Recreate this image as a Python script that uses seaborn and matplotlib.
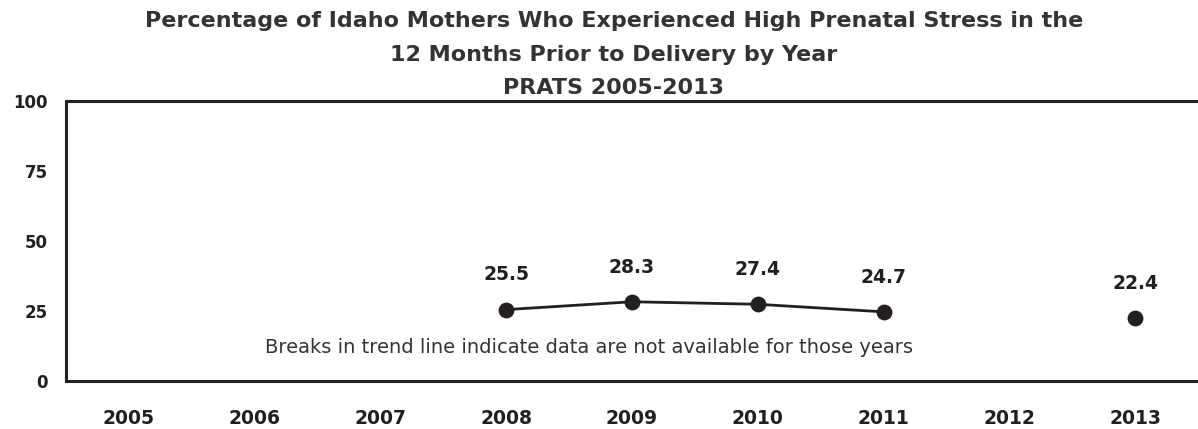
import numpy as np
import pandas as pd
import matplotlib
matplotlib.use("Agg")
import matplotlib.pyplot as plt
import seaborn as sns

years = ["2005", "2006", "2007", "2008", "2009", "2010", "2011", "2012", "2013"]
values = [np.nan, np.nan, np.nan, 25.5, 28.3, 27.4, 24.7, np.nan, 22.4]
yticks = [0, 25, 50, 75, 100]
title_lines = ["Percentage of Idaho Mothers Who Experienced High Prenatal Stress in the",
               "12 Months Prior to Delivery by Year",
               "PRATS 2005-2013"]
note = "Breaks in trend line indicate data are not available for those years"

sns.set_style("white")
plt.rcParams['font.family'] = ['DejaVu Sans']
ink = "#231f20"

df = pd.DataFrame({"year": years, "pos": np.arange(len(years)), "val": values})
df["seg"] = df["val"].isna().cumsum()
dd = df.dropna()

fig = plt.figure(figsize=(11.98, 4.29), dpi=100)
ax = fig.add_axes([66/1198, 1-381/429, 1-66/1198, (381-101)/429])

sns.lineplot(data=dd, x="pos", y="val", units="seg", estimator=None,
             color=ink, lw=2, ax=ax, legend=False)
sns.scatterplot(data=dd, x="pos", y="val", color=ink, s=130, edgecolor=ink,
                linewidth=0, ax=ax, zorder=5, legend=False)
for _, r in dd.iterrows():
    ax.annotate(f"{r['val']:.1f}", (r["pos"], r["val"]), xytext=(0, 25),
                textcoords="offset points", ha="center", va="center",
                fontsize=13.5, fontweight="bold", color=ink)

ax.set_xlim(-0.5, len(years) - 0.5)
ax.set_ylim(0, 100)
ax.set_yticks(yticks)
ax.set_yticklabels([str(t) for t in yticks], fontsize=12, fontweight="bold", color=ink)
ax.set_xticks(np.arange(len(years) + 1) - 0.5)
ax.set_xticklabels([])
ax.set_xticks(np.arange(len(years)), minor=True)
ax.set_xticklabels(years, minor=True, fontsize=13.5, fontweight="bold", color=ink)
ax.tick_params(axis="x", which="major", direction="out", length=7, width=2, color=ink)
ax.tick_params(axis="x", which="minor", length=0, pad=20)
ax.tick_params(axis="y", direction="out", length=7, width=2, color=ink, pad=6)
ax.set_xlabel("")
ax.set_ylabel("")
for s in ["left", "bottom", "top"]:
    ax.spines[s].set_color(ink)
    ax.spines[s].set_linewidth(2.2)
ax.spines["right"].set_visible(False)

ax.text(3.66, 12.1, note, ha="center", va="center", fontsize=14, color="#333333")

for t, y in zip(title_lines, [21, 55, 88]):
    fig.text(614/1198, 1 - y/429, t, ha="center", va="center", fontsize=16,
             fontweight="bold", color="#333333")

fig.savefig("out.png", dpi=100)
